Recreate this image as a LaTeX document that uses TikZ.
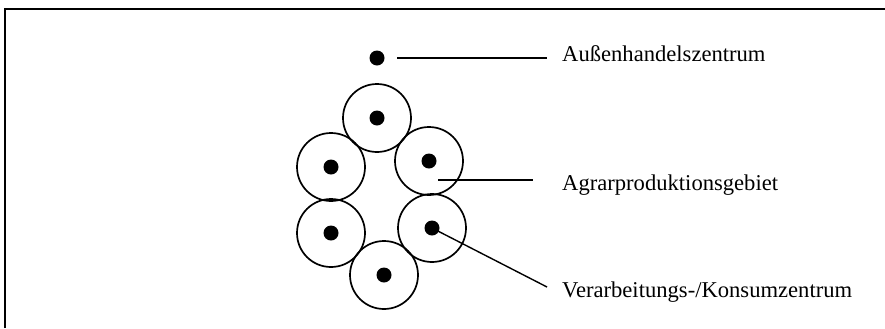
\documentclass[tikz,border=0pt]{standalone}
\usepackage{fontspec}
\setmainfont{Liberation Serif}
\begin{document}
\begin{tikzpicture}[x=1bp,y=-1bp,
  ring/.style={circle,draw,line width=1.7bp,minimum size=68bp,inner sep=0pt},
  dotc/.style={circle,fill=black,minimum size=15bp,inner sep=0pt},
  lbl/.style={anchor=west,font=\fontsize{22.6bp}{26bp}\selectfont,inner sep=0pt},
  ln/.style={line width=1.4bp}]
\useasboundingbox (0,0) rectangle (885,328);
\draw[line width=1.8bp] (5,328) -- (5,9) -- (885,9);
% rings
\node[ring] (r1) at (377,118) {};
\node[ring] (r2) at (429,161) {};
\node[ring] (r3) at (432,228) {};
\node[ring] (r4) at (384,275) {};
\node[ring] (r5) at (331,233) {};
\node[ring] (r6) at (331,167) {};
\node[dotc] (d1) at (377,118) {};
\node[dotc] (d2) at (429,161) {};
\node[dotc] (d3) at (432,228) {};
\node[dotc] (d4) at (384,275) {};
\node[dotc] (d5) at (331,233) {};
\node[dotc] (d6) at (331,167) {};
\node[dotc] (top) at (377,58) {};
% labels
\node[lbl] (la) at (562,54) {Außenhandelszentrum};
\node[lbl] (lb) at (562,185) {Agrarproduktionsgebiet};
\node[lbl] (lc) at (562,292) {Verarbeitungs-/Konsumzentrum};
\coordinate (a1) at (397,58);
\coordinate (a2) at (547,58);
\coordinate (b1) at (438,180);
\coordinate (b2) at (533,180);
\coordinate (c2) at (547,287);
\draw[ln] (a1) -- (a2);
\draw[ln] (b1) -- (b2);
\draw[ln] (d3.center) -- (c2);
\end{tikzpicture}
\end{document}
